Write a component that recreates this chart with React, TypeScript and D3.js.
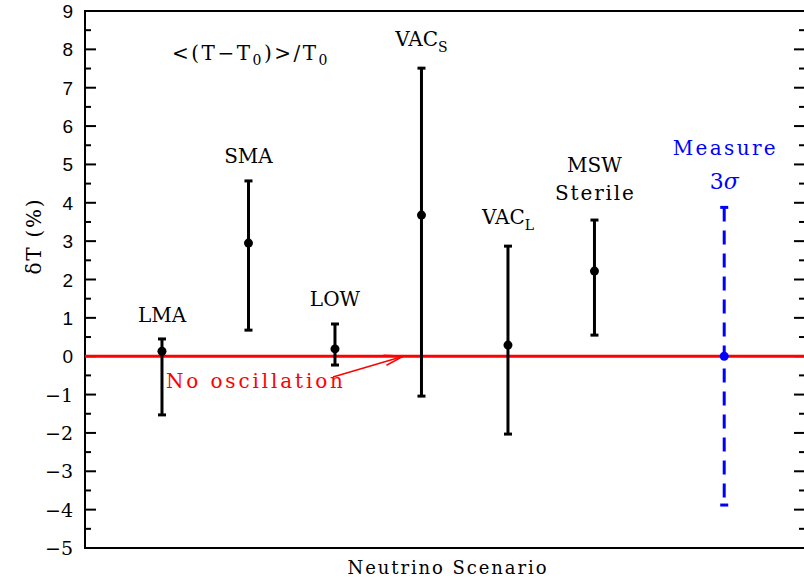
import React from "react";
import * as d3 from "d3";

const scenarios = ["LMA", "SMA", "LOW", "VACs", "VACL", "MSW", "Measure"];
const positions = [1, 2, 3, 4, 5, 6, 7.5];
const centers = [0.13, 2.95, 0.19, 3.68, 0.29, 2.22, 0.0];
const uppers = [0.45, 4.57, 0.84, 7.51, 2.87, 3.55, 3.88];
const lowers = [-1.53, 0.68, -0.23, -1.04, -2.03, 0.55, -3.88];
const labelValues = [0.9, 5.04, 1.31, 8.09, 3.45, 4.8, 5.24];
const yTicks = [-5, -4, -3, -2, -1, 0, 1, 2, 3, 4, 5, 6, 7, 8, 9];

const W = 804, H = 579;
const M = { left: 85, right: -1, top: 11, bottom: 31 };

export default function App() {
  const x = d3.scaleLinear().domain([0.11, 8.434]).range([M.left, W - M.right]);
  const y = d3.scaleLinear().domain([-5, 9]).range([H - M.bottom, M.top]);
  const minor = d3.range(-4.5, 9, 1);
  const serif = "'DejaVu Serif', 'Liberation Serif', serif";
  const sans = "'Liberation Sans', Arial, sans-serif";
  const x0 = x.range()[0], x1 = x.range()[1];
  const arrowTip = [x(4) - 18, y(0)];
  const arrowTail = [333, 377];
  return (
    <svg width={W} height={H} style={{ position: "absolute", left: 0, top: 0, background: "#fff" }}>
      {/* frame */}
      <rect x={x0} y={y(9)} width={x1 - x0} height={y(-5) - y(9)} fill="none" stroke="#000" strokeWidth={2} />
      {yTicks.map((t) => (
        <g key={t}>
          <line x1={x0} x2={x0 + 11} y1={y(t)} y2={y(t)} stroke="#000" strokeWidth={2} />
          <line x1={x1} x2={x1 - 11} y1={y(t)} y2={y(t)} stroke="#000" strokeWidth={2} />
          <text x={x0 - 12} y={y(t) + 7} textAnchor="end" fontFamily={t < 0 ? serif : sans} fontSize={19} fill="#000">
            {t < 0 ? "\u2212" + Math.abs(t) : t}
          </text>
        </g>
      ))}
      {minor.map((t) => (
        <g key={"m" + t}>
          <line x1={x0} x2={x0 + 6} y1={y(t)} y2={y(t)} stroke="#000" strokeWidth={2} />
          <line x1={x1} x2={x1 - 6} y1={y(t)} y2={y(t)} stroke="#000" strokeWidth={2} />
        </g>
      ))}
      {/* zero line */}
      <line x1={x0} x2={x1} y1={y(0)} y2={y(0)} stroke="#ff0000" strokeWidth={3} />
      {/* arrow */}
      <line x1={arrowTail[0]} y1={arrowTail[1]} x2={arrowTip[0]} y2={arrowTip[1]} stroke="#ff0000" strokeWidth={1.5} />
      <path d={`M${arrowTip[0] - 20},${arrowTip[1] - 1} L${arrowTip[0]},${arrowTip[1]} L${arrowTip[0] - 17},${arrowTip[1] + 9}`} fill="none" stroke="#ff0000" strokeWidth={1.5} />
      <text x={166} y={388} fontFamily={serif} fontSize={20} fill="#ff0000" textLength={177} lengthAdjust="spacing">No oscillation</text>
      {/* error bars */}
      {scenarios.map((s, i) => {
        const blue = s === "Measure";
        const c = blue ? "#0000ff" : "#000";
        const cx = x(positions[i]);
        return (
          <g key={s}>
            <line x1={cx} x2={cx} y1={y(uppers[i])} y2={y(lowers[i])} stroke={c} strokeWidth={3} strokeDasharray={blue ? "14,9" : undefined} />
            <line x1={cx - 4} x2={cx + 4} y1={y(uppers[i])} y2={y(uppers[i])} stroke={c} strokeWidth={3} />
            <line x1={cx - 4} x2={cx + 4} y1={y(lowers[i])} y2={y(lowers[i])} stroke={c} strokeWidth={3} />
            <circle cx={cx} cy={y(centers[i])} r={4.5} fill={c} />
          </g>
        );
      })}
      {/* labels */}
      <g fontFamily={serif} fontSize={20} textAnchor="middle" fill="#000">
        <text x={x(positions[0])} y={y(labelValues[0])}>LMA</text>
        <text x={x(positions[1])} y={y(labelValues[1])}>SMA</text>
        <text x={x(positions[2])} y={y(labelValues[2])}>LOW</text>
        <text x={x(positions[3])} y={y(labelValues[3])}>VAC<tspan fontSize={14} dy={6}>S</tspan></text>
        <text x={x(positions[4])} y={y(labelValues[4])}>VAC<tspan fontSize={14} dy={6}>L</tspan></text>
        <text x={x(positions[5])} y={y(labelValues[5])}>MSW</text>
        <text x={x(positions[5])} y={y(labelValues[5]) + 28} textLength={79} lengthAdjust="spacing">Sterile</text>
        <text x={x(positions[6])} y={y(labelValues[6])} fill="#0000ff" textLength={103} lengthAdjust="spacing">Measure</text>
        <text x={x(positions[6])} y={y(labelValues[6]) + 34} fill="#0000ff" fontSize={22}>3<tspan fontStyle="italic">σ</tspan></text>
        <text x={251} y={60} letterSpacing={2.5}>
          {"<(T\u2212T"}<tspan fontSize={14} dy={5}>0</tspan><tspan dy={-5}>{")>/T"}</tspan><tspan fontSize={14} dy={5}>0</tspan>
        </text>
      </g>
      {/* axis titles */}
      <text x={447} y={574} textAnchor="middle" fontFamily={serif} fontSize={18} textLength={199} lengthAdjust="spacing">Neutrino Scenario</text>
      <text transform={`translate(41,${237}) rotate(-90)`} textAnchor="middle" fontFamily={serif} fontSize={20} textLength={75} lengthAdjust="spacing">δT (%)</text>
    </svg>
  );
}
